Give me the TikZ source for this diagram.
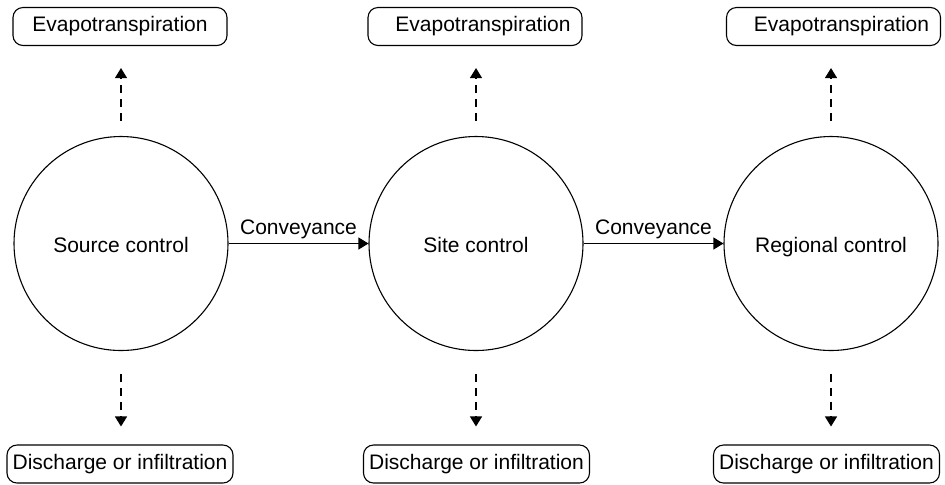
\documentclass[tikz,border=0pt]{standalone}
\usepackage{fontspec}
\setmainfont{Liberation Sans}
\usetikzlibrary{arrows.meta}
\begin{document}
\begin{tikzpicture}[x=0.5pt, y=-0.5pt, line width=0.55pt,
                    font=\fontsize{10.5}{12}\selectfont,
                    control/.style={draw, circle, minimum size=107pt, inner sep=0pt, text height=9.5pt, text depth=1pt},
                    outlet/.style={draw, rounded corners=5pt, minimum height=19pt, inner sep=0pt, text height=7.5pt, text depth=2.2pt},
                    flow/.style={-{Triangle[length=5pt, width=6pt]}},
                    loss/.style={flow, dash pattern=on 4pt off 3pt}]
                    \useasboundingbox (0,0) rectangle (945,484);
                    \node[control] (source) at (121,243.5) {Source control};
                    \node[control] (site) at (476,243.5) {Site control};
                    \node[control] (regional) at (831,243.5) {Regional control};
                    \node[outlet, minimum width=107pt] (evap1) at (120,26.5) {Evapotranspiration};
                    \node[outlet, minimum width=107pt] (evap2) at (475,26.5) {\hspace*{8pt}Evapotranspiration};
                    \node[outlet, minimum width=107pt] (evap3) at (833.5,26.5) {\hspace*{8pt}Evapotranspiration};
                    \node[outlet, minimum width=113pt] (out1) at (120,464) {Discharge or infiltration};
                    \node[outlet, minimum width=113pt] (out2) at (476.5,464) {Discharge or infiltration};
                    \node[outlet, minimum width=113pt] (out3) at (826.5,464) {Discharge or infiltration};
                    \draw[flow] (source) -- node[above, inner sep=2pt] {Conveyance} (site);
                    \draw[flow] (site) -- node[above, inner sep=2pt] {Conveyance} (regional);
                    \foreach \c/\n in {source/1, site/2, regional/3} {
                        \draw[loss, shorten <=7.5pt, shorten >=11pt] (\c.north) -- (\c.north |- evap\n.south);
                        \draw[loss, shorten <=11.5pt, shorten >=9pt] (\c.south) -- (\c.south |- out\n.north);
                    }
                \end{tikzpicture}
\end{document}
